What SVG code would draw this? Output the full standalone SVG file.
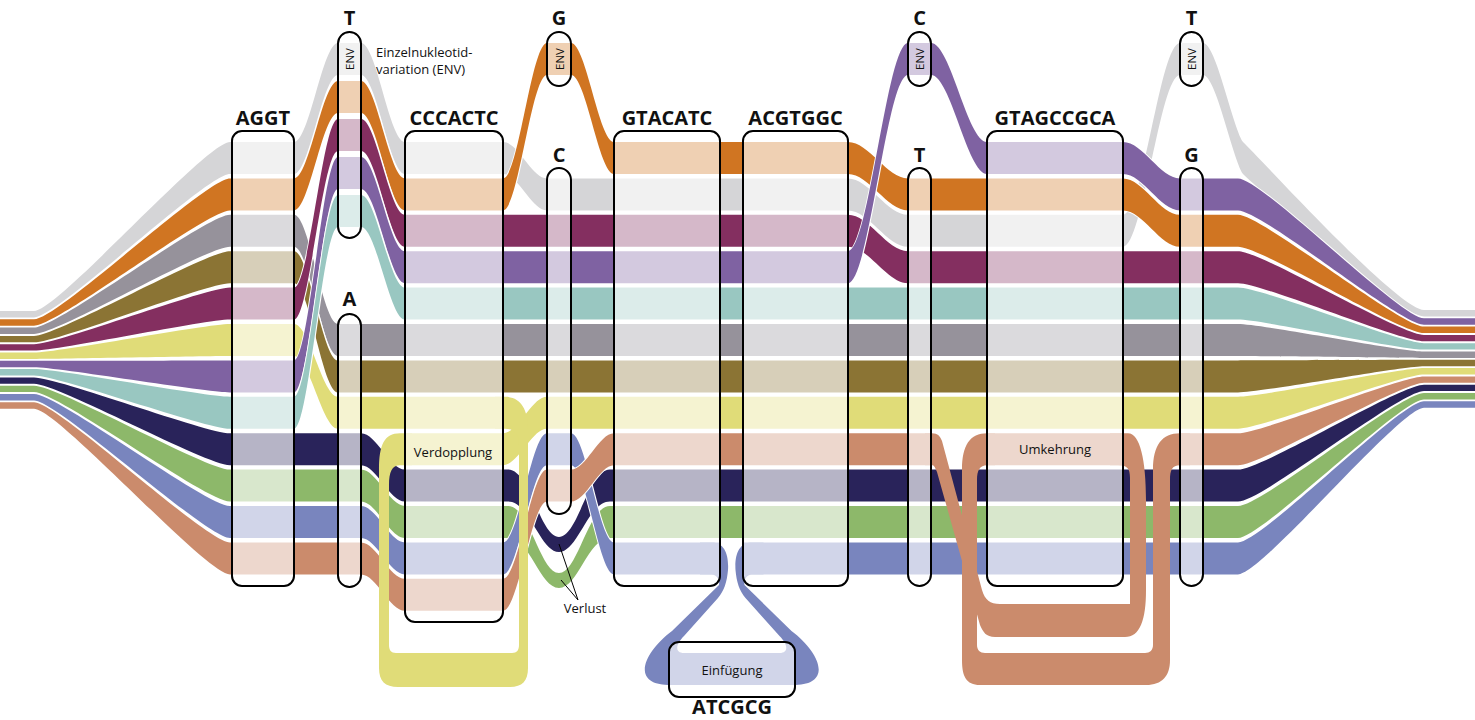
<svg xmlns="http://www.w3.org/2000/svg" width="1475" height="720" viewBox="0 0 1475 720">
<defs>
<style>
.r{stroke:#fff;stroke-width:2;paint-order:stroke;stroke-linejoin:round}
.lg{fill:#d5d5d7}.or{fill:#d07522}.gy{fill:#96929b}.ol{fill:#8b7434}.ma{fill:#842f60}.ye{fill:#e0dc78}
.pu{fill:#7f62a2}.te{fill:#99c7c1}.na{fill:#29235a}.gr{fill:#8db86a}.bl{fill:#7985be}.sa{fill:#cb8b6c}
.node{fill:#fff;fill-opacity:0.66;stroke:#000;stroke-width:2}
.lab{font-family:"Open Sans","Liberation Sans",sans-serif;font-weight:bold;font-size:20px;fill:#111;text-anchor:middle}
.env{font-family:"Open Sans","Liberation Sans",sans-serif;font-size:11.5px;fill:#111;text-anchor:middle;dominant-baseline:central}
.note{font-family:"Open Sans","Liberation Sans",sans-serif;font-size:13px;fill:#111}
</style>
</defs>
<rect width="1475" height="720" fill="#fff"/>
<g id="connectors">
<path class="r lg" d="M0 311 L34 311 C58 311 206 142 230 142 L294 142 C309.4 142 322.6 43 338 43 L361 43 C376.4 43 389.6 142 405 142 L503 142 C518.4 142 531.6 178.4 547 178.4 L848 178.4 C869 178.4 887 214.8 908 214.8 L1123 214.8 C1143 214.8 1160 43 1180 43 L1203 43 C1216 43 1232 125 1243 142 C1260 158 1398 310 1424 310 L1475 310 L1475 316.4 L1424 316.4 C1398 316.4 1260 190 1243 174 C1232 157 1216 75 1203 75 L1180 75 C1160 75 1143 246.8 1123 246.8 L908 246.8 C887 246.8 869 210.4 848 210.4 L547 210.4 C531.6 210.4 518.4 174 503 174 L405 174 C389.6 174 376.4 75 361 75 L338 75 C322.6 75 309.4 174 294 174 L230 174 C206 174 58 317.4 34 317.4 L0 317.4 Z"/>
<path class="r or" d="M0 319.3 L34 319.3 C58 319.3 206 178.4 230 178.4 L294 178.4 C309.4 178.4 322.6 81 338 81 L361 81 C376.4 81 389.6 178.4 405 178.4 L503 178.4 C518.4 178.4 531.6 43 547 43 L571 43 C586 43 599 142 614 142 L848 142 C869 142 887 178.4 908 178.4 L1123 178.4 C1143 178.4 1160 214.8 1180 214.8 L1238 214.8 C1262 214.8 1400 326.6 1424 326.6 L1475 326.6 L1475 333 L1424 333 C1400 333 1262 246.8 1238 246.8 L1180 246.8 C1160 246.8 1143 210.4 1123 210.4 L908 210.4 C887 210.4 869 174 848 174 L614 174 C599 174 586 75 571 75 L547 75 C531.6 75 518.4 210.4 503 210.4 L405 210.4 C389.6 210.4 376.4 113 361 113 L338 113 C322.6 113 309.4 210.4 294 210.4 L230 210.4 C206 210.4 58 325.7 34 325.7 L0 325.7 Z"/>
<path class="r gy" d="M0 327.6 L34 327.6 C58 327.6 206 214.8 230 214.8 L294 214.8 C309.4 214.8 322.6 324 338 324 L1238 324 C1262 324 1400 351.5 1424 351.5 L1475 351.5 L1475 357.9 L1424 357.9 C1400 357.9 1262 356 1238 356 L338 356 C322.6 356 309.4 246.8 294 246.8 L230 246.8 C206 246.8 58 334 34 334 L0 334 Z"/>
<path class="r ol" d="M0 335.9 L34 335.9 C58 335.9 206 251.2 230 251.2 L294 251.2 C309.4 251.2 322.6 360.4 338 360.4 L1238 360.4 C1262 360.4 1400 359.8 1424 359.8 L1475 359.8 L1475 366.2 L1424 366.2 C1400 366.2 1262 392.4 1238 392.4 L338 392.4 C322.6 392.4 309.4 283.2 294 283.2 L230 283.2 C206 283.2 58 342.3 34 342.3 L0 342.3 Z"/>
<path class="r ma" d="M0 344.2 L34 344.2 C58 344.2 206 287.6 230 287.6 L294 287.6 C309.4 287.6 322.6 119 338 119 L361 119 C376.4 119 389.6 214.8 405 214.8 L848 214.8 C869 214.8 887 251.2 908 251.2 L1238 251.2 C1262 251.2 1400 334.9 1424 334.9 L1475 334.9 L1475 341.3 L1424 341.3 C1400 341.3 1262 283.2 1238 283.2 L908 283.2 C887 283.2 869 246.8 848 246.8 L405 246.8 C389.6 246.8 376.4 151 361 151 L338 151 C322.6 151 309.4 319.6 294 319.6 L230 319.6 C206 319.6 58 350.6 34 350.6 L0 350.6 Z"/>
<path class="r ye" d="M0 352.5 L34 352.5 C58 352.5 206 324 230 324 L294 324 C309.4 324 322.6 396.8 338 396.8 L503 396.8 L503 428.8 L338 428.8 C322.6 428.8 309.4 356 294 356 L230 356 C206 356 58 358.9 34 358.9 L0 358.9 Z"/>
<path class="r ye" d="M405 433.2 L503 433.2 C518.4 433.2 531.6 396.8 547 396.8 L1238 396.8 C1262 396.8 1400 368.1 1424 368.1 L1475 368.1 L1475 374.5 L1424 374.5 C1400 374.5 1262 428.8 1238 428.8 L547 428.8 C531.6 428.8 518.4 465.2 503 465.2 L405 465.2 Z"/>
<path class="r pu" d="M0 360.8 L34 360.8 C58 360.8 206 360.4 230 360.4 L294 360.4 C309.4 360.4 322.6 157 338 157 L361 157 C376.4 157 389.6 251.2 405 251.2 L848 251.2 C869 251.2 887 43 908 43 L931 43 C950.6 43 967.4 142 987 142 L1123 142 C1143 142 1160 178.4 1180 178.4 L1238 178.4 C1262 178.4 1400 318.3 1424 318.3 L1475 318.3 L1475 324.7 L1424 324.7 C1400 324.7 1262 210.4 1238 210.4 L1180 210.4 C1160 210.4 1143 174 1123 174 L987 174 C967.4 174 950.6 75 931 75 L908 75 C887 75 869 283.2 848 283.2 L405 283.2 C389.6 283.2 376.4 189 361 189 L338 189 C322.6 189 309.4 392.4 294 392.4 L230 392.4 C206 392.4 58 367.2 34 367.2 L0 367.2 Z"/>
<path class="r te" d="M0 369.1 L34 369.1 C58 369.1 206 396.8 230 396.8 L294 396.8 C309.4 396.8 322.6 195 338 195 L361 195 C376.4 195 389.6 287.6 405 287.6 L1238 287.6 C1262 287.6 1400 343.2 1424 343.2 L1475 343.2 L1475 349.6 L1424 349.6 C1400 349.6 1262 319.6 1238 319.6 L405 319.6 C389.6 319.6 376.4 227 361 227 L338 227 C322.6 227 309.4 428.8 294 428.8 L230 428.8 C206 428.8 58 375.5 34 375.5 L0 375.5 Z"/>
<path class="r na" d="M0 377.4 L34 377.4 C58 377.4 206 433.2 230 433.2 L361 433.2 C376.4 433.2 389.6 469.6 405 469.6 L508 469.6 C530 469.6 540 537 559 537 C578 537 588 469.6 610 469.6 L1238 469.6 C1262 469.6 1400 384.7 1424 384.7 L1475 384.7 L1475 391.1 L1424 391.1 C1400 391.1 1262 501.6 1238 501.6 L610 501.6 C588 501.6 578 552 559 552 C540 552 530 501.6 508 501.6 L405 501.6 C389.6 501.6 376.4 465.2 361 465.2 L230 465.2 C206 465.2 58 383.8 34 383.8 L0 383.8 Z"/>
<path class="r gr" d="M0 385.7 L34 385.7 C58 385.7 206 469.6 230 469.6 L361 469.6 C376.4 469.6 389.6 506 405 506 L508 506 C530 506 540 573 559 573 C578 573 588 506 610 506 L1238 506 C1262 506 1400 393 1424 393 L1475 393 L1475 399.4 L1424 399.4 C1400 399.4 1262 538 1238 538 L610 538 C588 538 578 588 559 588 C540 588 530 538 508 538 L405 538 C389.6 538 376.4 501.6 361 501.6 L230 501.6 C206 501.6 58 392.1 34 392.1 L0 392.1 Z"/>
<path class="r bl" d="M0 394 L34 394 C58 394 206 506 230 506 L361 506 C376.4 506 389.6 542.4 405 542.4 L503 542.4 C518.4 542.4 531.6 433.2 547 433.2 L571 433.2 C586 433.2 599 542.4 614 542.4 L720 542.4 L720 574.4 L614 574.4 C599 574.4 586 465.2 571 465.2 L547 465.2 C531.6 465.2 518.4 574.4 503 574.4 L405 574.4 C389.6 574.4 376.4 538 361 538 L230 538 C206 538 58 400.4 34 400.4 L0 400.4 Z"/>
<path class="r bl" d="M743 542.4 L1238 542.4 C1262 542.4 1400 401.3 1424 401.3 L1475 401.3 L1475 407.7 L1424 407.7 C1400 407.7 1262 574.4 1238 574.4 L743 574.4 Z"/>
<path class="r sa" d="M0 402.3 L34 402.3 C58 402.3 206 542.4 230 542.4 L361 542.4 C376.4 542.4 389.6 578.8 405 578.8 L503 578.8 C518.4 578.8 531.6 469.6 547 469.6 L571 469.6 C586 469.6 599 433.2 614 433.2 L931 433.2 L931 465.2 L614 465.2 C599 465.2 586 501.6 571 501.6 L547 501.6 C531.6 501.6 518.4 610.8 503 610.8 L405 610.8 C389.6 610.8 376.4 574.4 361 574.4 L230 574.4 C206 574.4 58 408.7 34 408.7 L0 408.7 Z"/>
<path class="sa" d="M987 433.2 L1123 433.2 L1123 465.2 L987 465.2 Z"/>
<path class="r sa" d="M1180 433.2 L1238 433.2 C1262 433.2 1400 376.4 1424 376.4 L1475 376.4 L1475 382.8 L1424 382.8 C1400 382.8 1262 465.2 1238 465.2 L1180 465.2 Z"/>
<path class="ye" d="M495 396.8 L505 396.8 C520 396.8 528 408 528 430 L528 668 C528 681 522 687 510 687 L398 687 C385 687 379 681 379 668 L379 470 C379 445 384 433.2 400 433.2 L412 433.2 L412 465.2 L400 465.2 C392 465.2 389 472 389 485 L389 645 C389 650 391 653 396 653 L512 653 C517 653 519 650 519 645 L519 445 C519 434 515 428.8 505 428.8 L495 428.8 Z"/>
<path class="bl" d="M700 542.4 L712 542.4 C724 542.4 729 554 728 570 C727 582 724 591 718 598 L684 636 C676 644 674 653 684 653 L779.5 653 C789.5 653 787.5 644 779.5 636 L745.5 598 C739.5 591 736.5 582 735.5 570 C734.5 554 739.5 542.4 751.5 542.4 L763.5 542.4 L763.5 574.4 L751.5 574.4 C747.5 574.4 743.5 579 744.5 585 L791.5 631 C819.5 652 833.5 684 795.5 685 L668 685 C630 684 644 652 672 631 L719 585 C720 579 716 574.4 712 574.4 L700 574.4 Z"/>
<path class="sa" d="M925 433.2 L932 433.2 C938 433.2 940 436 942 441 L982 590 C985 600 990 604 1000 604 L1130 604 L1130 478 C1130 468 1127 465.2 1118 465.2 L1110 465.2 L1110 433.2 L1128 433.2 C1140 433.2 1146 460 1146 500 L1146 590 C1146 620 1140 637 1125 637 L995 637 C986 637 983 632 980 625 L937 472 C935 467 934 465.2 932 465.2 L925 465.2 Z"/>
<path class="sa" d="M995 433.2 L987 433.2 C970 433.2 962 445 962 470 L962 660 C962 676 966 685 980 685 L1146 685 C1162 685 1170 676 1170 660 L1170 480 C1170 470 1172 465.2 1180 465.2 L1190 465.2 L1190 433.2 L1180 433.2 C1162 433.2 1153 445 1153 470 L1153 645 C1153 650 1150 653 1145 653 L985 653 C980 653 977 650 977 645 L977 480 C977 470 980 465.2 987 465.2 L995 465.2 Z"/>
<path d="M578 600 L559 544 M578 600 L561 580" stroke="#000" stroke-width="1" fill="none"/>
</g>
<g id="node-AGGT"><rect class="node" x="232" y="131" width="62" height="455" rx="10"/><text class="lab" x="263" y="125">AGGT</text></g>
<g id="node-T-ENV1"><rect class="node" x="338" y="32" width="23" height="206" rx="11.5"/><text class="lab" x="349.5" y="25">T</text><text class="env" x="349.5" y="59" transform="rotate(-90 349.5 59)">ENV</text></g>
<g id="node-A"><rect class="node" x="338" y="314" width="23" height="273" rx="11.5"/><text class="lab" x="349.5" y="306">A</text></g>
<g id="node-CCCACTC"><rect class="node" x="405" y="131" width="98" height="491" rx="10"/><text class="lab" x="454" y="125">CCCACTC</text><text class="note" x="453" y="457" text-anchor="middle" font-size="14">Verdopplung</text></g>
<g id="node-G-ENV"><rect class="node" x="547" y="32" width="24" height="54" rx="12"/><text class="lab" x="559" y="25">G</text><text class="env" x="559" y="59" transform="rotate(-90 559 59)">ENV</text></g>
<g id="node-C"><rect class="node" x="547" y="168" width="24" height="346" rx="12"/><text class="lab" x="559" y="162">C</text></g>
<g id="node-GTACATC"><rect class="node" x="614" y="131" width="106" height="455" rx="10"/><text class="lab" x="667" y="125">GTACATC</text></g>
<g id="node-ACGTGGC"><rect class="node" x="743" y="131" width="105" height="455" rx="10"/><text class="lab" x="795.5" y="125">ACGTGGC</text></g>
<g id="node-C-ENV"><rect class="node" x="908" y="32" width="23" height="54" rx="11.5"/><text class="lab" x="919.5" y="25">C</text><text class="env" x="919.5" y="59" transform="rotate(-90 919.5 59)">ENV</text></g>
<g id="node-T"><rect class="node" x="908" y="168" width="23" height="418" rx="11.5"/><text class="lab" x="919.5" y="162">T</text></g>
<g id="node-GTAGCCGCA"><rect class="node" x="987" y="131" width="136" height="455" rx="10"/><text class="lab" x="1055" y="125">GTAGCCGCA</text><text class="note" x="1055" y="454" text-anchor="middle" font-size="14">Umkehrung</text></g>
<g id="node-T-ENV2"><rect class="node" x="1180" y="32" width="23" height="54" rx="11.5"/><text class="lab" x="1191.5" y="25">T</text><text class="env" x="1191.5" y="59" transform="rotate(-90 1191.5 59)">ENV</text></g>
<g id="node-G"><rect class="node" x="1180" y="168" width="23" height="418" rx="11.5"/><text class="lab" x="1191.5" y="162">G</text></g>
<g id="node-ATCGCG"><rect class="node" x="669" y="642" width="126" height="55" rx="10"/><text class="note" x="732" y="675" text-anchor="middle" font-size="14">Einfügung</text><text class="lab" x="732" y="714">ATCGCG</text></g>
<g id="labels">
<text class="note" x="376" y="57" font-size="12">Einzelnukleotid-</text>
<text class="note" x="376" y="73.5" font-size="12">variation (ENV)</text>
<text class="note" x="585" y="613" text-anchor="middle" font-size="13">Verlust</text>
</g>
</svg>
